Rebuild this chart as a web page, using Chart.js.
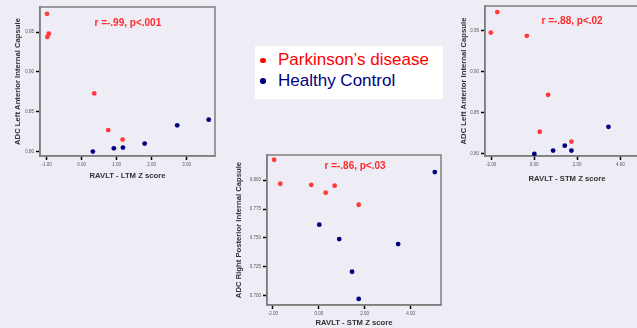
<!DOCTYPE html>
<html>
<head>
<meta charset="utf-8">
<script src="https://cdn.jsdelivr.net/npm/chart.js@4.4.0/dist/chart.umd.min.js"></script>
<style>
body { margin: 0; width: 637px; height: 328px; overflow: hidden; position: relative; background: #eeedf6; font-family: "Liberation Sans", Arial, sans-serif; }
canvas { position: absolute; }
#c1 { left: 0; top: 0; }
#c2 { left: 220px; top: 150px; }
#c3 { left: 440px; top: 0; }
#legend { position: absolute; left: 255px; top: 46px; width: 188px; height: 53px; background: #fff; padding-top: 4px; box-sizing: border-box; }
#legend div { height: 20.5px; line-height: 20.5px; font-size: 17px; position: relative; padding-left: 23px; }
#legend span { position: absolute; left: 5px; top: 7.5px; width: 5.5px; height: 5.5px; border-radius: 50%; }
</style>
</head>
<body>
<canvas id="c1" width="222" height="190"></canvas>
<canvas id="c2" width="225" height="178"></canvas>
<canvas id="c3" width="215" height="190"></canvas>
<div id="legend"></div>
<script>
// series
var seriesNames = ['Parkinson\u2019s disease', 'Healthy Control'];
var pointColours = ['#ff3a3a', '#00007f'];
var legendColours = ['#ff0000', '#000080'];

// left chart: LTM z score vs ADC left anterior internal capsule
var ltmPD = [-0.99, -0.94, -0.98, 0.36, 0.76, 1.17];
var laicPD1 = [0.973, 0.948, 0.944, 0.873, 0.827, 0.815];
var ltmHC = [0.32, 0.92, 1.18, 1.80, 2.73, 3.63];
var laicHC1 = [0.800, 0.804, 0.805, 0.810, 0.833, 0.840];

// middle chart: STM z score vs ADC right posterior internal capsule
var stmPD2 = [-1.95, -1.68, -0.33, 0.30, 0.69, 1.74];
var rpicPD = [0.8175, 0.7968, 0.7959, 0.7891, 0.7951, 0.7787];
var stmHC2 = [0.02, 0.89, 3.46, 1.45, 1.74, 5.06];
var rpicHC = [0.7615, 0.7491, 0.7448, 0.7209, 0.6974, 0.8069];

// right chart: STM z score vs ADC left anterior internal capsule
var stmPD3 = [-1.71, -2.01, -0.34, 0.65, 0.26, 1.73];
var laicPD3 = [0.973, 0.948, 0.944, 0.872, 0.827, 0.815];
var stmHC3 = [0.01, 0.88, 1.42, 1.73, 3.45];
var laicHC3 = [0.800, 0.804, 0.810, 0.804, 0.833];

// tick labels
var ltmTicks = [-1, 0, 1, 2, 3];
var stmTicks = [-2, 0, 2, 4];
var laicTicks = [0.80, 0.85, 0.90, 0.95];
var rpicTicks = [0.700, 0.725, 0.750, 0.775, 0.800];

// correlation notes
var notes = ['r =-.99, p<.001', 'r =-.86, p<.03', 'r =-.88, p<.02'];

var framePlugin = {
    id: 'frame',
    beforeDatasetsDraw: function(chart) {
        var a = chart.chartArea, ctx = chart.ctx;
        ctx.save();
        ctx.strokeStyle = '#7f7f7f';
        ctx.lineWidth = 1.5;
        ctx.strokeRect(a.left, a.top, a.right - a.left, a.bottom - a.top);
        ctx.restore();
    },
    afterDatasetsDraw: function(chart, args, opts) {
        var ctx = chart.ctx;
        ctx.save();
        ctx.font = 'bold 10px "Liberation Sans", Arial, sans-serif';
        ctx.fillStyle = '#ff2b2b';
        ctx.textAlign = 'center';
        ctx.textBaseline = 'middle';
        ctx.fillText(opts.text, chart.scales.x.getPixelForValue(opts.x), chart.scales.y.getPixelForValue(opts.y));
        ctx.restore();
    }
};

function toPoints(xs, ys) {
    return xs.map(function(x, i) { return {x: x, y: ys[i]}; });
}

function axis(c) {
    return {
        type: 'linear',
        min: c.min,
        max: c.max,
        afterBuildTicks: function(s) { s.ticks = c.ticks.map(function(v) { return {value: v}; }); },
        afterFit: function(s) { if (c.w) s.width = c.w; if (c.h) s.height = c.h; },
        grid: { drawOnChartArea: false, tickLength: 4, tickColor: '#000', tickWidth: 1.5 },
        border: { color: '#7f7f7f', width: 1.5 },
        ticks: {
            autoSkip: false, maxRotation: 0, padding: 2, color: '#555',
            font: { size: 4.5, family: '"Liberation Sans", Arial, sans-serif' },
            callback: function(v) { return Number(v).toFixed(c.dec); }
        },
        title: {
            display: true, text: c.title, color: '#333',
            font: { size: 7.7, weight: 'bold', family: '"Liberation Sans", Arial, sans-serif' },
            padding: c.tpad
        }
    };
}

function makeChart(id, c) {
    return new Chart(document.getElementById(id), {
        type: 'scatter',
        data: {
            datasets: [
                { label: seriesNames[0], data: toPoints(c.pdX, c.pdY), backgroundColor: pointColours[0], borderColor: pointColours[0], pointRadius: 2.4, borderWidth: 0 },
                { label: seriesNames[1], data: toPoints(c.hcX, c.hcY), backgroundColor: pointColours[1], borderColor: pointColours[1], pointRadius: 2.4, borderWidth: 0 }
            ]
        },
        options: {
            responsive: false,
            animation: false,
            layout: { padding: c.pad },
            plugins: {
                legend: { display: false },
                tooltip: { enabled: false },
                frame: c.note
            },
            scales: { x: axis(c.x), y: axis(c.y) }
        },
        plugins: [framePlugin]
    });
}

makeChart('c1', {
    pdX: ltmPD, pdY: laicPD1, hcX: ltmHC, hcY: laicHC1,
    pad: { top: 7, right: 7, left: 0, bottom: 0 },
    note: { text: notes[0], x: 1.32, y: 0.9615 },
    x: { min: -1.19, max: 3.81, ticks: ltmTicks, dec: 2, h: 34, title: 'RAVLT - LTM Z score', tpad: { top: 0, bottom: 9.4 } },
    y: { min: 0.7944, max: 0.9816, ticks: laicTicks, dec: 2, w: 40, title: 'ADC Left Anterior Internal Capsule', tpad: { top: 13.4, bottom: 0 } }
});

makeChart('c2', {
    pdX: stmPD2, pdY: rpicPD, hcX: stmHC2, hcY: rpicHC,
    pad: { top: 5, right: 2, left: 0, bottom: 0 },
    note: { text: notes[1], x: 1.58, y: 0.8123 },
    x: { min: -2.26, max: 5.33, ticks: stmTicks, dec: 2, h: 23, title: 'RAVLT - STM Z score', tpad: { top: 0, bottom: 0 } },
    y: { min: 0.6922, max: 0.8216, ticks: rpicTicks, dec: 3, w: 47, title: 'ADC Right Posterior Internal Capsule', tpad: { top: 14.4, bottom: 0 } }
});

makeChart('c3', {
    pdX: stmPD3, pdY: laicPD3, hcX: stmHC3, hcY: laicHC3,
    pad: { top: 6, right: 6, left: 0, bottom: 0 },
    note: { text: notes[2], x: 1.76, y: 0.962 },
    x: { min: -2.28, max: 5.33, ticks: stmTicks, dec: 2, h: 34, title: 'RAVLT - STM Z score', tpad: { top: 0, bottom: 6.4 } },
    y: { min: 0.7974, max: 0.9804, ticks: laicTicks, dec: 2, w: 45, title: 'ADC Left Anterior Internal Capsule', tpad: { top: 19.4, bottom: 0 } }
});

// legend
var legend = document.getElementById('legend');
seriesNames.forEach(function(name, i) {
    var row = document.createElement('div');
    row.style.color = legendColours[i];
    var dot = document.createElement('span');
    dot.style.background = legendColours[i];
    row.appendChild(dot);
    row.appendChild(document.createTextNode(name));
    legend.appendChild(row);
});
</script>
</body>
</html>
